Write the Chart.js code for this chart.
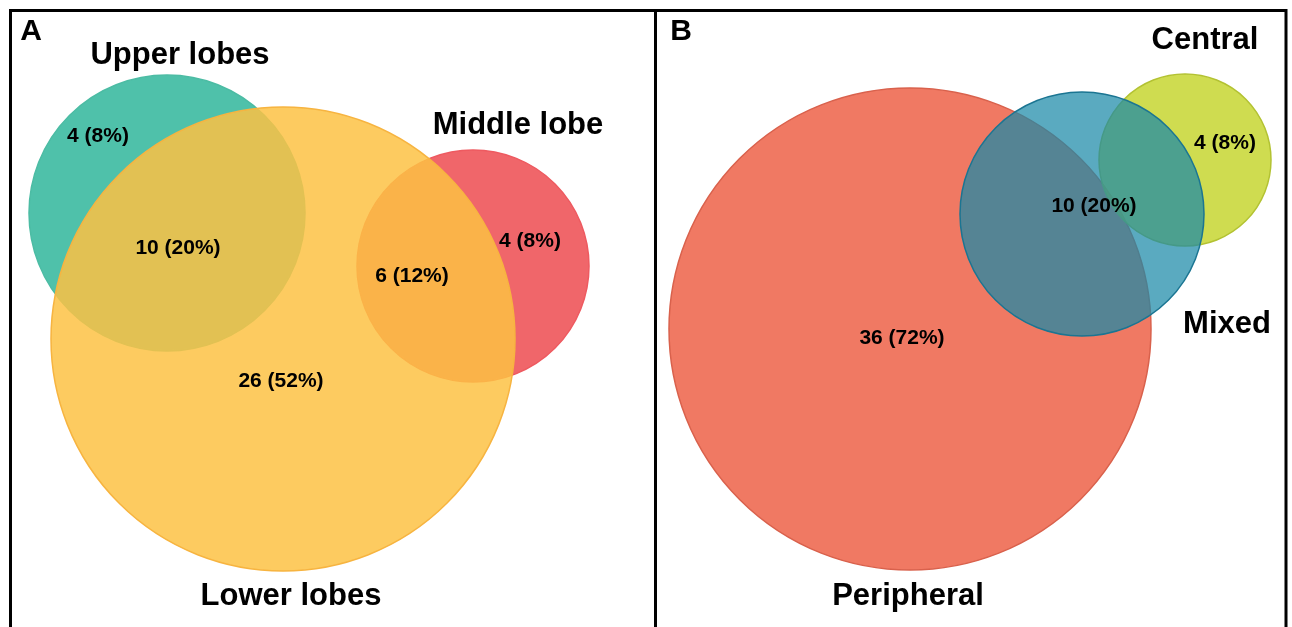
<!DOCTYPE html>
<html>
<head>
<meta charset="utf-8">
<script src="https://cdn.jsdelivr.net/npm/chart.js@4.4.0/dist/chart.umd.min.js"></script>
<style>
    html, body { margin: 0; padding: 0; background: #fff; }
</style>
</head>
<body>
<canvas id="venn" width="1292" height="627"></canvas>
<script>
// sets, drawn bottom to top (centre and radius in picture units, y down)
var setNames = ['Upper lobes', 'Middle lobe', 'Lower lobes', 'Peripheral', 'Central', 'Mixed'];
var setX = [167, 473, 283, 910, 1185, 1082];
var setY = [213, 266, 339, 329, 160, 214];
var setR = [138, 116, 232, 241, 86, 122];
var setFill = ['rgba(35,177,149,0.8)', 'rgba(236,64,69,0.8)', 'rgba(253,194,68,0.85)',
               'rgba(237,97,72,0.85)', 'rgba(195,211,36,0.8)', 'rgba(26,137,168,0.72)'];
var setLine = ['#4cbca4', '#ee5a60', '#f7b440', '#d9614c', '#b3c232', '#1b7592'];

// set titles
var titleX = [180, 518, 291, 908, 1205, 1227];
var titleY = [55, 125, 596, 596, 40, 324];

// counts in each region
var countText = ['4 (8%)', '10 (20%)', '6 (12%)', '4 (8%)', '26 (52%)', '4 (8%)', '10 (20%)', '36 (72%)'];
var countX = [98, 178, 412, 530, 281, 1225, 1094, 902];
var countY = [136, 248, 276, 241, 381, 143, 206, 338];

// panel letters
var panelText = ['A', 'B'];
var panelX = [31, 681];
var panelY = [32, 32];

var datasets = setNames.map(function (name, i) {
    return {
        label: name,
        data: [{ x: setX[i], y: setY[i], r: 1 }],
        backgroundColor: setFill[i],
        borderColor: setLine[i],
        borderWidth: 1.5,
        order: setNames.length - i
    };
});

var textPlugin = {
    id: 'vennText',
    afterDatasetsDraw: function (chart) {
        var ctx = chart.ctx,
            x = chart.scales.x,
            y = chart.scales.y;
        ctx.save();

        // frame and divider
        ctx.strokeStyle = '#000';
        ctx.lineWidth = 3;
        ctx.beginPath();
        ctx.moveTo(x.getPixelForValue(10.5), y.getPixelForValue(627));
        ctx.lineTo(x.getPixelForValue(10.5), y.getPixelForValue(10.5));
        ctx.lineTo(x.getPixelForValue(1286), y.getPixelForValue(10.5));
        ctx.lineTo(x.getPixelForValue(1286), y.getPixelForValue(627));
        ctx.moveTo(x.getPixelForValue(655.5), y.getPixelForValue(10.5));
        ctx.lineTo(x.getPixelForValue(655.5), y.getPixelForValue(627));
        ctx.stroke();

        ctx.fillStyle = '#000';
        ctx.textAlign = 'center';
        ctx.textBaseline = 'middle';

        ctx.font = 'bold 30px "Liberation Sans", Arial, sans-serif';
        panelText.forEach(function (t, i) {
            ctx.fillText(t, x.getPixelForValue(panelX[i]), y.getPixelForValue(panelY[i]));
        });

        ctx.font = 'bold 31px "Liberation Sans", Arial, sans-serif';
        setNames.forEach(function (t, i) {
            ctx.fillText(t, x.getPixelForValue(titleX[i]), y.getPixelForValue(titleY[i]));
        });

        ctx.font = 'bold 21px "Liberation Sans", Arial, sans-serif';
        countText.forEach(function (t, i) {
            ctx.fillText(t, x.getPixelForValue(countX[i]), y.getPixelForValue(countY[i]));
        });
        ctx.restore();
    }
};

var chart = new Chart(document.getElementById('venn').getContext('2d'), {
    type: 'bubble',
    data: { datasets: datasets },
    options: {
        responsive: false,
        animation: false,
        events: [],
        layout: { padding: 0, autoPadding: false },
        plugins: { legend: { display: false }, tooltip: { enabled: false } },
        scales: {
            x: { type: 'linear', min: 0, max: 1292, display: false },
            y: { type: 'linear', min: 0, max: 627, reverse: true, display: false }
        }
    },
    plugins: [textPlugin]
});

// bubble r is in pixels: convert the radius from scale units once laid out
var xs = chart.scales.x;
chart.data.datasets.forEach(function (d, i) {
    d.data[0].r = xs.getPixelForValue(setR[i]) - xs.getPixelForValue(0);
});
chart.update();
</script>
</body>
</html>
